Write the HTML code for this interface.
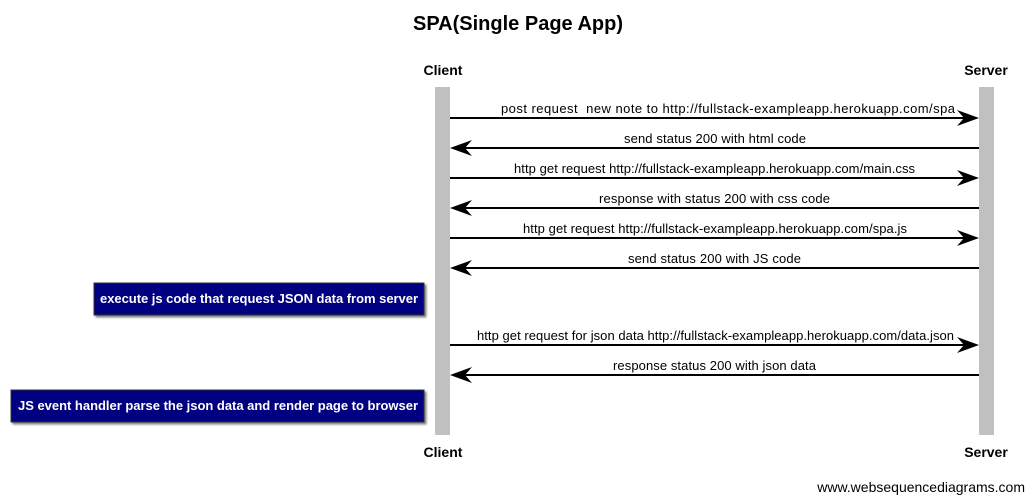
<!DOCTYPE html>
<html><head><meta charset="utf-8"><style>
html,body{margin:0;padding:0;background:#fff;}
svg{display:block;font-family:"Liberation Sans",Arial,sans-serif;}
</style></head><body>
<svg width="1034" height="502" viewBox="0 0 1034 502" xmlns="http://www.w3.org/2000/svg">
<defs>
<filter id="sh" x="-5%" y="-20%" width="110%" height="150%"><feDropShadow dx="2" dy="2" stdDeviation="1" flood-color="#000" flood-opacity="0.5"/></filter>
</defs>
<text x="518" y="30" text-anchor="middle" font-size="20" font-weight="bold">SPA(Single Page App)</text>
<text x="443" y="75" text-anchor="middle" font-size="14" font-weight="bold">Client</text>
<text x="986" y="75" text-anchor="middle" font-size="14" font-weight="bold">Server</text>
<text x="443" y="457" text-anchor="middle" font-size="14" font-weight="bold">Client</text>
<text x="986" y="457" text-anchor="middle" font-size="14" font-weight="bold">Server</text>
<rect x="435" y="87" width="15" height="348" fill="#c0c0c0"/>
<rect x="979" y="87" width="15" height="348" fill="#c0c0c0"/>
<g stroke="#000" stroke-width="2">
<line x1="450" y1="118" x2="965" y2="118"/>
<line x1="464" y1="148" x2="979" y2="148"/>
<line x1="450" y1="178" x2="965" y2="178"/>
<line x1="464" y1="208" x2="979" y2="208"/>
<line x1="450" y1="238" x2="965" y2="238"/>
<line x1="464" y1="268" x2="979" y2="268"/>
<line x1="450" y1="345" x2="965" y2="345"/>
<line x1="464" y1="375" x2="979" y2="375"/>
</g>
<g fill="#000">
<path d="M979,118 L957,110 L964,118 L957,126 Z"/>
<path d="M450,148 L472,140 L465,148 L472,156 Z"/>
<path d="M979,178 L957,170 L964,178 L957,186 Z"/>
<path d="M450,208 L472,200 L465,208 L472,216 Z"/>
<path d="M979,238 L957,230 L964,238 L957,246 Z"/>
<path d="M450,268 L472,260 L465,268 L472,276 Z"/>
<path d="M979,345 L957,337 L964,345 L957,353 Z"/>
<path d="M450,375 L472,367 L465,375 L472,383 Z"/>
</g>
<g font-size="13" fill="#000" lengthAdjust="spacing">
<text x="501" y="113" textLength="454">post request&#160; new note to http://fullstack-exampleapp.herokuapp.com/spa</text>
<text x="624" y="143" textLength="182">send status 200 with html code</text>
<text x="514" y="173" textLength="401">http get request http://fullstack-exampleapp.herokuapp.com/main.css</text>
<text x="599" y="203" textLength="231">response with status 200 with css code</text>
<text x="523" y="233" textLength="384">http get request http://fullstack-exampleapp.herokuapp.com/spa.js</text>
<text x="628" y="263" textLength="173">send status 200 with JS code</text>
<text x="477" y="340" textLength="477">http get request for json data http://fullstack-exampleapp.herokuapp.com/data.json</text>
<text x="613" y="370" textLength="203">response status 200 with json data</text>
</g>
<rect x="94" y="283" width="330" height="32" fill="#000080" stroke="#333" stroke-width="1" filter="url(#sh)"/>
<text x="100" y="303" textLength="318" font-size="13" font-weight="bold" fill="#fff">execute js code that request JSON data from server</text>
<rect x="11" y="390" width="413" height="32" fill="#000080" stroke="#333" stroke-width="1" filter="url(#sh)"/>
<text x="18" y="410" textLength="400" font-size="13" font-weight="bold" fill="#fff">JS event handler parse the json data and render page to browser</text>
<text x="1025" y="492" text-anchor="end" font-size="14">www.websequencediagrams.com</text>
</svg>
</body></html>
